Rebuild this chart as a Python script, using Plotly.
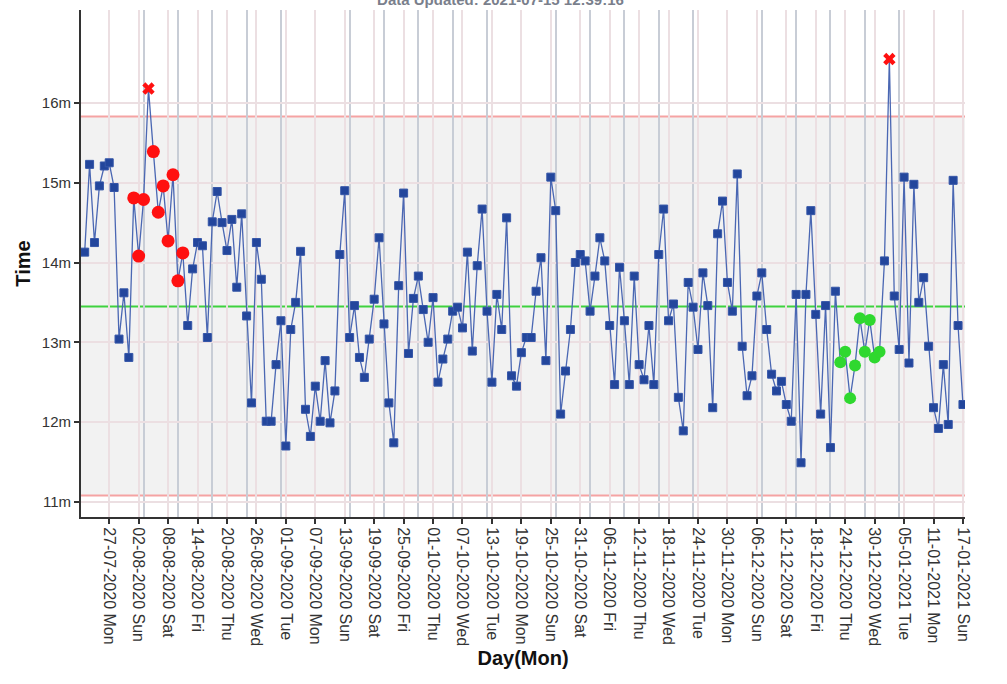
import numpy as np
import pandas as pd
import plotly.graph_objects as go

# ---------------- data ----------------
start_date = "2020-07-22"
times = [14.13, 15.23, 14.25, 14.96, 15.21, 15.25, 14.94, 13.04, 13.62, 12.81,
         14.81, 14.08, 14.79, 16.18, 15.39, 14.63, 14.96, 14.27, 15.10, 13.77,
         14.12, 13.21, 13.92, 14.25, 14.21, 13.06, 14.51, 14.89, 14.50, 14.15,
         14.54, 13.69, 14.61, 13.33, 12.24, 14.25, 13.79, 12.01, 12.01, 12.72,
         13.27, 11.70, 13.16, 13.50, 14.14, 12.16, 11.82, 12.45, 12.01, 12.77,
         11.99, 12.39, 14.10, 14.90, 13.06, 13.46, 12.81, 12.56, 13.04, 13.54,
         14.31, 13.23, 12.24, 11.74, 13.71, 14.87, 12.86, 13.55, 13.83, 13.41,
         13.00, 13.56, 12.50, 12.79, 13.04, 13.39, 13.44, 13.18, 14.13, 12.89,
         13.96, 14.67, 13.39, 12.50, 13.60, 13.16, 14.56, 12.58, 12.45, 12.87,
         13.06, 13.06, 13.64, 14.06, 12.77, 15.07, 14.65, 12.10, 12.64, 13.16,
         14.00, 14.10, 14.02, 13.39, 13.83, 14.31, 14.02, 13.21, 12.47, 13.94,
         13.27, 12.47, 13.83, 12.72, 12.53, 13.21, 12.47, 14.10, 14.67, 13.27,
         13.48, 12.31, 11.89, 13.75, 13.44, 12.91, 13.87, 13.46, 12.18, 14.36,
         14.77, 13.75, 13.39, 15.11, 12.95, 12.33, 12.58, 13.58, 13.87, 13.16,
         12.60, 12.39, 12.51, 12.22, 12.01, 13.60, 11.49, 13.60, 14.65, 13.35,
         12.10, 13.46, 11.68, 13.64, 12.75, 12.88, 12.30, 12.71, 13.30, 12.88,
         13.28, 12.81, 12.88, 14.02, 16.55, 13.58, 12.91, 15.07, 12.74, 14.98,
         13.50, 13.81, 12.95, 12.18, 11.92, 12.72, 11.97, 15.03, 13.21, 12.22]

ucl = 15.83
center = 13.45
lcl = 11.08

out_of_limit_idx = [13, 164]                       # red crosses
run_above_idx = [10, 11, 12, 14, 15, 16, 17, 18, 19, 20]   # red circles
run_below_idx = [154, 155, 156, 157, 158, 159, 160, 161, 162]  # green circles

y_tick_vals = [11, 12, 13, 14, 15, 16]
y_tick_text = ["11m", "12m", "13m", "14m", "15m", "16m"]
x_tick_start = "2020-07-27"
x_tick_end = "2021-01-17"
title_text = "Data Updated: 2021-07-15 12:39:16"

# ---------------- build ----------------
dates = pd.date_range(start_date, periods=len(times), freq="D")
vals = np.array(times, dtype=float)
flagged = set(out_of_limit_idx) | set(run_above_idx) | set(run_below_idx)
normal_idx = [i for i in range(len(times)) if i not in flagged]

def pick(idx):
    return [dates[i] for i in idx], [vals[i] for i in idx]

fig = go.Figure()

fig.add_trace(go.Scatter(x=dates, y=vals, mode="lines",
                         line=dict(color="#4a67b3", width=1.3),
                         hoverinfo="skip", showlegend=False))

xn, yn = pick(normal_idx)
fig.add_trace(go.Scatter(x=xn, y=yn, mode="markers",
                         marker=dict(symbol="square", size=8, color="#23469c",
                                     line=dict(color="#3556a8", width=1)),
                         showlegend=False))

xr, yr = pick(run_above_idx)
fig.add_trace(go.Scatter(x=xr, y=yr, mode="markers",
                         marker=dict(symbol="circle", size=13, color="#ff1010"),
                         showlegend=False))

xg, yg = pick(run_below_idx)
fig.add_trace(go.Scatter(x=xg, y=yg, mode="markers",
                         marker=dict(symbol="circle", size=12, color="#2fd82f"),
                         showlegend=False))

xo, yo = pick(out_of_limit_idx)
fig.add_trace(go.Scatter(x=xo, y=yo, mode="markers",
                         marker=dict(symbol="x", size=11, color="#ff1010",
                                     line=dict(width=0)),
                         showlegend=False))

# control band and lines
fig.add_shape(type="rect", xref="paper", x0=0, x1=1, yref="y", y0=lcl, y1=ucl,
              fillcolor="#f2f2f2", line=dict(width=0), layer="below")
for yv, col in [(ucl, "#f5a3a3"), (lcl, "#f5a3a3"), (center, "#3fd23f")]:
    fig.add_shape(type="line", xref="paper", x0=0, x1=1, yref="y", y0=yv, y1=yv,
                  line=dict(color=col, width=2), layer="between")

tick_dates = pd.date_range(x_tick_start, x_tick_end, freq="6D")

font_family = "Liberation Sans, Arial, sans-serif"

fig.update_layout(
    width=1007, height=684,
    margin=dict(l=81, r=42, t=10, b=167),
    paper_bgcolor="white", plot_bgcolor="white",
    font=dict(family=font_family, color="#333333"),
    title=dict(text="<b>" + title_text + "</b>", x=0.497, xref="container",
               y=1.0, yref="container", yanchor="middle", xanchor="center",
               font=dict(size=15, color="#7a7f8c")),
    showlegend=False,
)

fig.update_xaxes(
    type="date",
    range=[dates[0] - pd.Timedelta(hours=18), dates[-1] + pd.Timedelta(hours=10)],
    tickvals=tick_dates, tickformat="%d-%m-%Y %a", tickangle=90,
    tickfont=dict(size=16, color="#333333"),
    showgrid=True, gridcolor="#ecdfe2", gridwidth=1.5,
    minor=dict(tick0="2020-07-27", dtick=7 * 86400000, showgrid=True,
               gridcolor="#c8cdd6", gridwidth=2, ticks=""),
    showline=True, linecolor="#333333", linewidth=2,
    ticks="outside", ticklen=5, tickcolor="#333333", tickwidth=1.5,
    zeroline=False,
    title=dict(text="<b>Day(Mon)</b>", font=dict(size=20, color="#111111"), standoff=6),
)

fig.update_yaxes(
    range=[10.81, 17.165],
    tickvals=y_tick_vals, ticktext=y_tick_text,
    tickfont=dict(size=15, color="#333333"),
    showgrid=True, gridcolor="#ecdfe2", gridwidth=1.5,
    showline=True, linecolor="#333333", linewidth=2,
    ticks="outside", ticklen=5, tickcolor="#333333", tickwidth=1.5,
    zeroline=False,
    title=dict(text="<b>Time</b>", font=dict(size=20, color="#111111"), standoff=6),
)

fig.write_html("out.html", config={"displayModeBar": False},
               post_script="document.body.style.margin='0';")
